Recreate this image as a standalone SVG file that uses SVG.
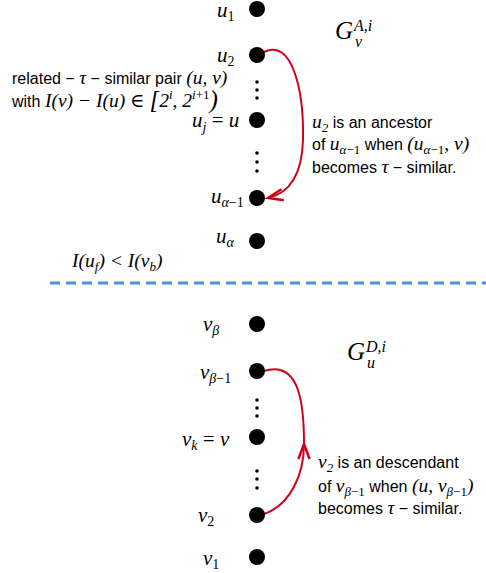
<svg xmlns="http://www.w3.org/2000/svg" width="486" height="573" viewBox="0 0 486 573">
<style>
.dot{fill:#000}
.ell{fill:#000}
.m{font-family:"Liberation Serif","DejaVu Serif",serif;font-style:italic;font-size:21px;fill:#000}
.mu{font-style:normal}
.sub{font-size:14px}
.s{font-family:"Liberation Sans",Arial,sans-serif;font-size:16px;fill:#000;font-style:normal}
.tm{font-family:"Liberation Serif","DejaVu Serif",serif;font-style:italic;font-size:19.5px}
.tm.k{font-size:13px}
.tm.b{font-size:25px}
.g{font-family:"Liberation Serif","DejaVu Serif",serif;font-style:italic;font-size:25px;fill:#000}
.gs{font-family:"Liberation Serif","DejaVu Serif",serif;font-style:italic;font-size:16px;fill:#000}
.red{fill:none;stroke:#d0021b;stroke-width:2}
</style>
<defs>
<marker id="ah" markerUnits="userSpaceOnUse" markerWidth="20" markerHeight="20" refX="0" refY="0" viewBox="-14 -8 16 16" orient="auto" overflow="visible">
<path d="M -12 -4.5 L 0 0 L -12 4.5" fill="none" stroke="#d0021b" stroke-width="2"/>
</marker>
</defs>

<g id="divider">
<line x1="50" y1="283" x2="486" y2="283" stroke="#4a90e2" stroke-width="3" stroke-dasharray="10 6"/>
</g>

<g id="connectors">
<path class="red" d="M 264 52 C 292 38, 304 90, 303 140 C 302 175, 290 193, 268 198" marker-end="url(#ah)"/>
<path class="red" d="M 264 514 C 290 505, 304 475, 304 444 C 304 405, 300 360, 264 371" marker-mid="url(#ah)"/>
</g>

<g id="u1"><circle class="dot" cx="257" cy="9" r="8"/><text class="m" x="217" y="17">u<tspan class="mu sub" dy="4">1</tspan></text></g>
<g id="u2"><circle class="dot" cx="257" cy="55" r="8"/><text class="m" x="217" y="62">u<tspan class="mu sub" dy="4">2</tspan></text></g>
<g id="dots-u-top"><circle class="ell" cx="257" cy="82" r="1.8"/><circle class="ell" cx="257" cy="90" r="1.8"/><circle class="ell" cx="257" cy="98" r="1.8"/></g>
<g id="uj"><circle class="dot" cx="257" cy="120" r="8"/><text class="m" x="192" y="127">u<tspan class="sub" dy="5">j</tspan><tspan class="mu" dy="-5"> = </tspan>u</text></g>
<g id="dots-u-bot"><circle class="ell" cx="257" cy="153" r="1.8"/><circle class="ell" cx="257" cy="162" r="1.8"/><circle class="ell" cx="257" cy="171" r="1.8"/></g>
<g id="ualpha1"><circle class="dot" cx="257" cy="198" r="8"/><text class="m" x="211" y="203">u<tspan class="sub" dy="4">α<tspan class="mu">−1</tspan></tspan></text></g>
<g id="ualpha"><circle class="dot" cx="257" cy="241" r="8"/><text class="m" x="216" y="243">u<tspan class="sub" dy="4">α</tspan></text></g>

<g id="vbeta"><circle class="dot" cx="257" cy="324" r="8"/><text class="m" x="203" y="331">v<tspan class="sub" dy="4">β</tspan></text></g>
<g id="vbeta1"><circle class="dot" cx="257" cy="371" r="8"/><text class="m" x="200" y="379">v<tspan class="sub" dy="4">β<tspan class="mu">−1</tspan></tspan></text></g>
<g id="dots-v-top"><circle class="ell" cx="257" cy="400" r="1.8"/><circle class="ell" cx="257" cy="408" r="1.8"/><circle class="ell" cx="257" cy="416" r="1.8"/></g>
<g id="vk"><circle class="dot" cx="257" cy="437" r="8"/><text class="m" x="182" y="446">v<tspan class="sub" dy="4">k</tspan><tspan class="mu" dy="-4"> = </tspan>v</text></g>
<g id="dots-v-bot"><circle class="ell" cx="257" cy="471" r="1.8"/><circle class="ell" cx="257" cy="479" r="1.8"/><circle class="ell" cx="257" cy="488" r="1.8"/></g>
<g id="v2"><circle class="dot" cx="257" cy="515" r="8"/><text class="m" x="198" y="522">v<tspan class="mu sub" dy="4">2</tspan></text></g>
<g id="v1"><circle class="dot" cx="257" cy="557" r="8"/><text class="m" x="203" y="565">v<tspan class="mu sub" dy="4">1</tspan></text></g>

<g id="label-GA">
<text class="g" x="335" y="39">G</text>
<text class="gs" x="354" y="31">A<tspan class="mu">,</tspan>i</text>
<text class="gs" x="355" y="47">v</text>
</g>
<g id="label-GD">
<text class="g" x="347" y="360">G</text>
<text class="gs" x="366" y="352">D<tspan class="mu">,</tspan>i</text>
<text class="gs" x="367" y="368">u</text>
</g>

<g id="label-pair">
<text class="s" x="12" y="84">related − <tspan class="tm mu">τ</tspan> − similar pair <tspan class="tm mu">(</tspan><tspan class="tm">u</tspan><tspan class="tm mu">, </tspan><tspan class="tm">v</tspan><tspan class="tm mu">)</tspan></text>
<text class="s" x="12" y="107">with <tspan class="tm">I</tspan><tspan class="tm mu">(</tspan><tspan class="tm">v</tspan><tspan class="tm mu">) − </tspan><tspan class="tm">I</tspan><tspan class="tm mu">(</tspan><tspan class="tm">u</tspan><tspan class="tm mu">) ∈ </tspan><tspan class="tm mu b" dy="1">[</tspan><tspan class="tm mu" dy="-1">2</tspan><tspan class="tm k" dy="-8">i</tspan><tspan class="tm mu" dy="8">, 2</tspan><tspan class="tm k" dy="-8">i<tspan class="mu">+1</tspan></tspan><tspan class="tm mu b" dy="9">)</tspan></text>
</g>

<g id="label-cond">
<text class="s" x="72" y="267"><tspan class="tm">I</tspan><tspan class="tm mu">(</tspan><tspan class="tm">u</tspan><tspan class="tm k" dy="4">f</tspan><tspan class="tm mu" dy="-4">) &lt; </tspan><tspan class="tm">I</tspan><tspan class="tm mu">(</tspan><tspan class="tm">v</tspan><tspan class="tm k" dy="4">b</tspan><tspan class="tm mu" dy="-4">)</tspan></text>
</g>

<g id="label-ancestor">
<text class="s" x="312" y="128"><tspan class="tm">u</tspan><tspan class="tm mu k" dy="4">2</tspan><tspan dy="-4"> is an ancestor</tspan></text>
<text class="s" x="312" y="150">of <tspan class="tm">u</tspan><tspan class="tm k" dy="4">α<tspan class="mu">−1</tspan></tspan><tspan dy="-4"> when </tspan><tspan class="tm mu">(</tspan><tspan class="tm">u</tspan><tspan class="tm k" dy="4">α<tspan class="mu">−1</tspan></tspan><tspan class="tm mu" dy="-4">, </tspan><tspan class="tm">v</tspan><tspan class="tm mu">)</tspan></text>
<text class="s" x="312" y="173">becomes <tspan class="tm mu">τ</tspan> − similar.</text>
</g>

<g id="label-descendant">
<text class="s" x="318" y="468"><tspan class="tm">v</tspan><tspan class="tm mu k" dy="4">2</tspan><tspan dy="-4"> is an descendant</tspan></text>
<text class="s" x="318" y="492">of <tspan class="tm">v</tspan><tspan class="tm k" dy="4">β<tspan class="mu">−1</tspan></tspan><tspan dy="-4"> when </tspan><tspan class="tm mu">(</tspan><tspan class="tm">u</tspan><tspan class="tm mu">, </tspan><tspan class="tm">v</tspan><tspan class="tm k" dy="4">β<tspan class="mu">−1</tspan></tspan><tspan class="tm mu" dy="-4">)</tspan></text>
<text class="s" x="318" y="514">becomes <tspan class="tm mu">τ</tspan> − similar.</text>
</g>
</svg>
